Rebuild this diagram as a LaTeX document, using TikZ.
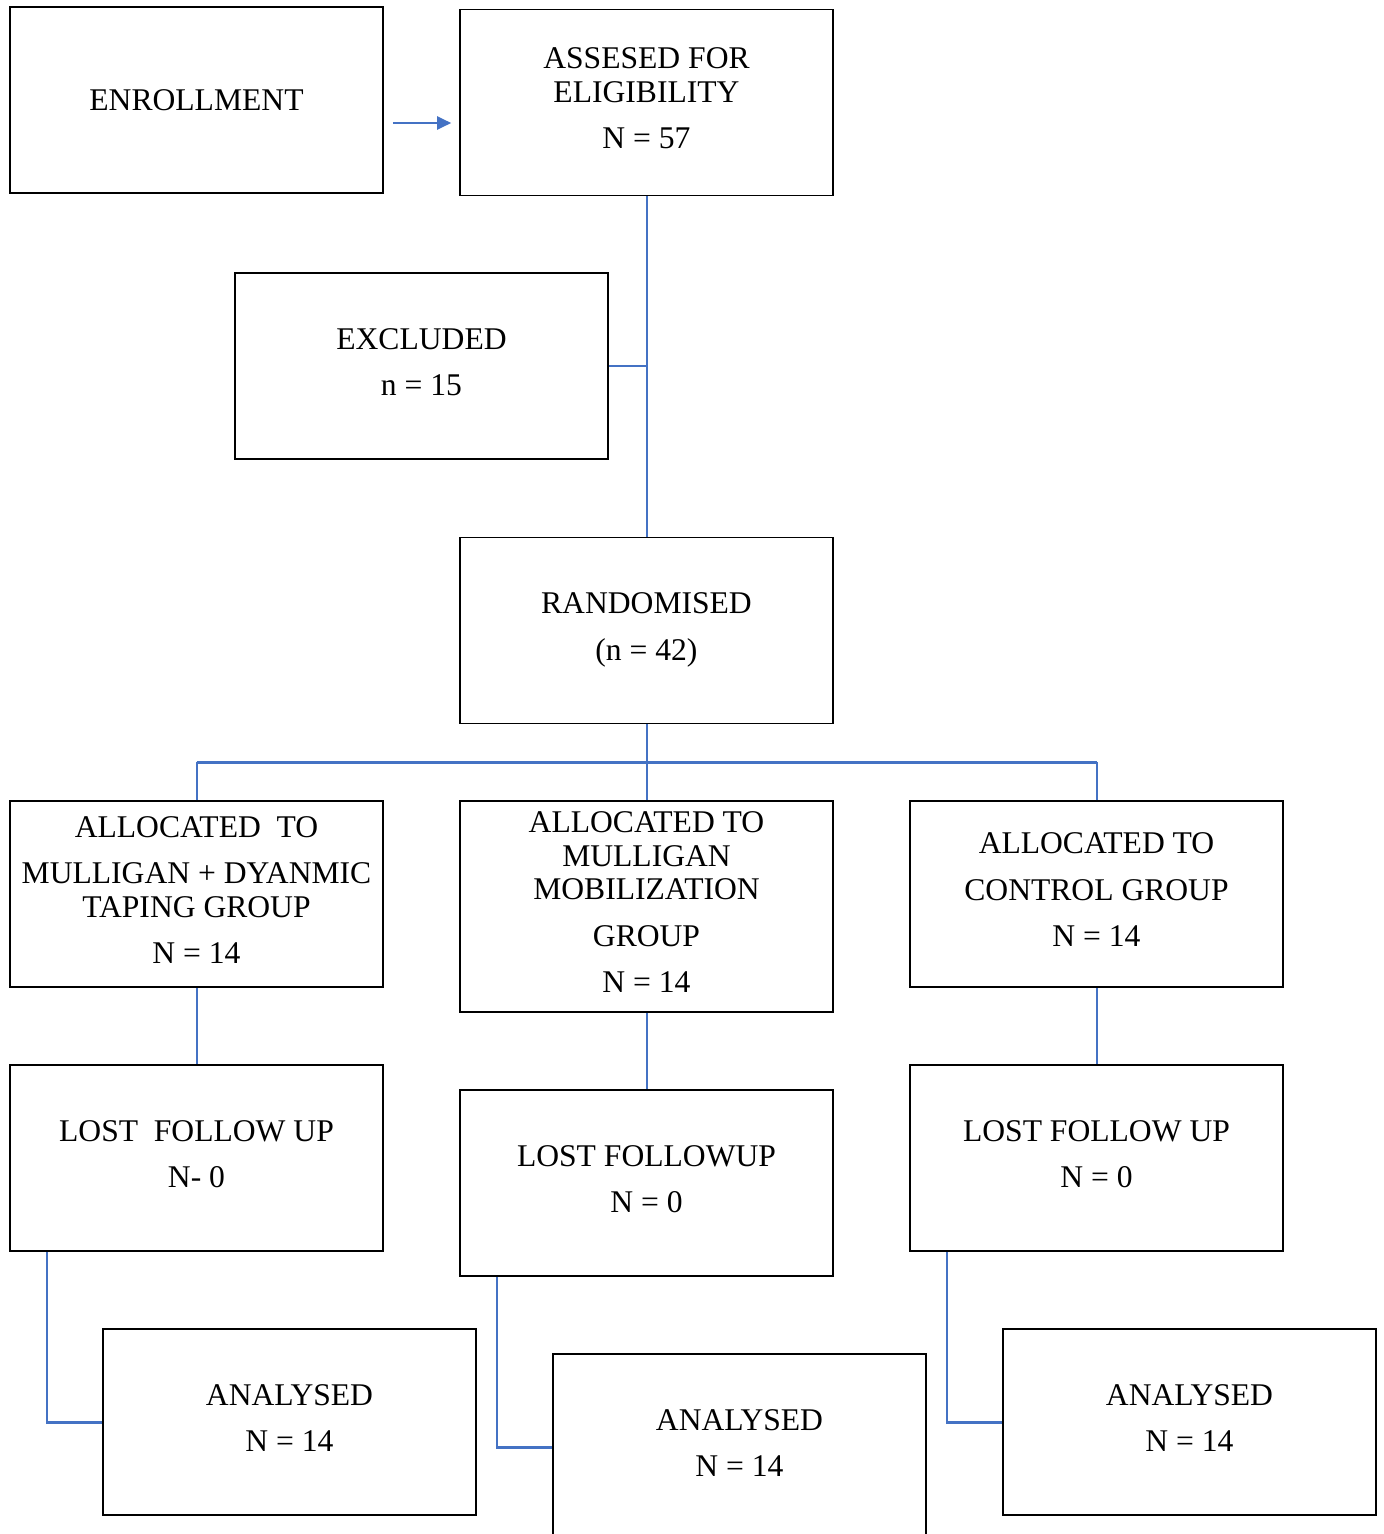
\documentclass[tikz,border=0pt]{standalone}
\usepackage{fontspec}
\setmainfont{Liberation Serif}
\usetikzlibrary{arrows.meta,calc}
\definecolor{flowblue}{RGB}{68,114,196}
\begin{document}
\begin{tikzpicture}[x=1pt,y=1pt,
  box/.style={draw=black,line width=1.6pt,minimum width=373pt,minimum height=186pt,inner sep=0pt,align=center,
    text depth=8pt,font=\fontsize{31.6}{33.5}\selectfont},
  conn/.style={draw=flowblue,line width=2pt},
  bar/.style={draw=flowblue,line width=3pt}]
\useasboundingbox (0,0) rectangle (1384,-1534);
\fill[white] (0,0) rectangle (1384,-1534);
\node[box,text depth=0pt] (enroll) at (196.5,-100) {ENROLLMENT};
\node[box] (assess) at (646.5,-102.5) {ASSESED FOR\\ELIGIBILITY\\[13pt]N = 57};
\node[box] (excl) at (421.5,-366) {EXCLUDED\\[13pt]n = 15};
\node[box] (rand) at (646.5,-630.5) {RANDOMISED\\[13pt](n = 42)};
\node[box] (a1) at (196.5,-894) {ALLOCATED\ \ TO\\[13pt]MULLIGAN + DYANMIC\\TAPING GROUP\\[13pt]N = 14};
\node[box,minimum height=211pt] (a2) at (646.5,-906.5) {ALLOCATED TO\\MULLIGAN\\MOBILIZATION\\[13pt]GROUP\\[13pt]N = 14};
\node[box] (a3) at (1096.5,-894) {ALLOCATED TO\\[13pt]CONTROL GROUP\\[13pt]N = 14};
\node[box] (l1) at (196.5,-1158) {LOST\ \ FOLLOW UP\\[13pt]N- 0};
\node[box] (l2) at (646.5,-1183) {LOST FOLLOWUP\\[13pt]N = 0};
\node[box] (l3) at (1096.5,-1158) {LOST FOLLOW UP\\[13pt]N = 0};
\node[box] (n1) at (289.5,-1422) {ANALYSED\\[13pt]N = 14};
\node[box] (n2) at (739.5,-1447) {ANALYSED\\[13pt]N = 14};
\node[box] (n3) at (1189.5,-1422) {ANALYSED\\[13pt]N = 14};
\coordinate (split) at (646.5,-762);
\coordinate (c1) at ([xshift=38pt]l1.south west |- n1.west);
\coordinate (c2) at ([xshift=38pt]l2.south west |- n2.west);
\coordinate (c3) at ([xshift=38pt]l3.south west |- n3.west);
% connectors
\draw[conn,-{Triangle[length=14pt,width=13pt]}] ([shift={(9,-23)}]enroll.east) -- ([shift={(-8,-20.5)}]assess.west);
\draw[conn] (assess.south) -- (rand.north);
\draw[conn] (excl.east) -- (excl.east -| assess.south);
\draw[conn] (rand.south) -- (a2.north);
\draw[bar] (a1.north |- split) -- (a3.north |- split);
\draw[conn] (a1.north) -- (a1.north |- split);
\draw[conn] (a3.north) -- (a3.north |- split);
\draw[conn] (a1.south) -- (l1.north);
\draw[conn] (a2.south) -- (l2.north);
\draw[conn] (a3.south) -- (l3.north);
\draw[conn] ([xshift=38pt]l1.south west) -- (c1);
\draw[conn] ([xshift=38pt]l2.south west) -- (c2);
\draw[conn] ([xshift=38pt]l3.south west) -- (c3);
\draw[bar] ([xshift=-1pt]c1) -- (n1.west);
\draw[bar] ([xshift=-1pt]c2) -- (n2.west);
\draw[bar] ([xshift=-1pt]c3) -- (n3.west);
\end{tikzpicture}
\end{document}
